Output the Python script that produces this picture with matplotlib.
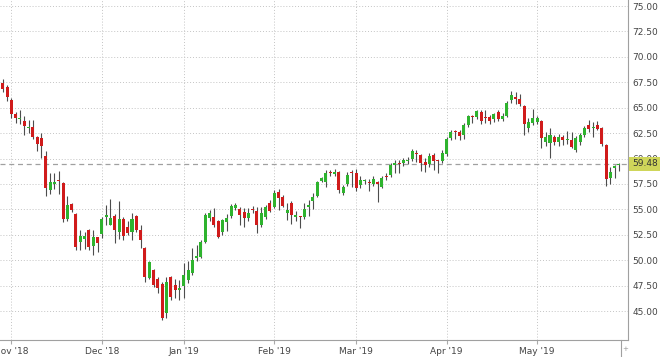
import matplotlib
matplotlib.use('Agg')
import matplotlib.pyplot as plt
from matplotlib.lines import Line2D
import numpy as np
import pandas as pd

# trading days Oct 30 2018 - May 29 2019 (NYSE closed on these)
holidays = ['2018-11-22', '2018-12-05', '2018-12-25', '2019-01-01',
            '2019-01-21', '2019-02-18', '2019-04-19', '2019-05-27']
dates = pd.bdate_range('2018-10-30', '2019-05-29', freq='C', holidays=holidays)

opens = [67.4, 67.0,
         65.8, 64.4, 63.85, 63.7, 63.0, 63.1, 62.1, 62.0, 60.3, 56.9, 57.5, 57.9, 57.6, 54.1, 55.5, 54.5, 51.8, 52.1, 52.97, 51.45, 52.25,
         52.55, 54.3, 53.5, 54.4, 52.8, 54.1, 53.3, 52.8, 54.35, 53.0, 51.2, 48.3, 49.0, 48.2, 47.7, 44.8, 48.4, 47.55, 47.1,
         47.46, 48.05, 48.77, 50.2, 50.35, 51.82, 54.2, 54.3, 53.9, 52.8, 53.8, 54.34, 55.13, 55.0, 54.77, 54.2, 54.95, 54.87, 53.46, 54.3, 55.65,
         55.2, 56.74, 56.25, 54.6, 55.65, 54.3, 54.35, 54.22, 55.2, 55.8, 56.3, 57.8, 57.72, 58.65, 58.5, 58.7, 56.64, 57.5, 58.65,
         58.54, 57.4, 57.75, 57.72, 57.5, 57.65, 57.23, 58.25, 58.38, 59.36, 59.5, 59.53, 59.8, 59.95, 60.45, 60.34, 59.62, 59.43, 60.34, 59.8, 59.75,
         60.45, 62.0, 62.66, 62.64, 62.3, 63.3, 64.1, 64.1, 64.55, 63.98, 64.05, 63.9, 64.6, 63.9, 64.2, 65.75, 66.08, 65.85, 65.2, 62.97, 63.46,
         63.6, 63.72, 61.66, 61.49, 62.15, 61.66, 62.15, 61.8, 61.82, 60.84, 61.6, 62.3, 63.3, 63.0, 63.3, 62.97, 61.33, 58.1, 59.04, 59.33]

highs = [67.8, 67.2,
         66.0, 64.6, 64.8, 64.2, 63.8, 63.8, 62.2, 62.5, 60.7, 58.6, 58.6, 58.8, 57.7, 56.3, 55.6, 54.6, 53.0, 52.8, 53.1, 53.0, 52.3,
         54.3, 55.4, 56.0, 54.5, 55.8, 54.3, 53.9, 54.6, 54.45, 53.5, 51.3, 49.9, 49.1, 48.4, 47.9, 48.4, 48.5, 48.2, 48.1,
         49.7, 49.9, 51.2, 51.5, 52.0, 54.6, 54.9, 55.1, 54.0, 54.1, 54.5, 55.5, 55.6, 55.2, 55.1, 55.1, 55.3, 55.2, 55.2, 55.4, 55.9,
         56.9, 57.0, 56.4, 55.6, 55.8, 54.8, 54.4, 55.6, 55.9, 56.6, 57.8, 58.2, 58.9, 58.9, 59.0, 58.8, 57.4, 58.7, 58.9,
         59.0, 58.3, 58.0, 58.0, 58.3, 57.8, 58.3, 58.6, 59.6, 59.9, 59.9, 60.1, 60.2, 60.9, 60.8, 60.4, 60.1, 60.5, 60.5, 59.9, 60.8,
         62.15, 62.8, 62.8, 62.8, 63.5, 64.3, 64.3, 64.8, 64.8, 64.8, 64.3, 64.5, 64.8, 64.5, 65.7, 66.6, 66.5, 66.3, 65.3, 64.0, 64.85,
         64.2, 63.8, 62.6, 63.0, 62.3, 62.4, 62.3, 62.7, 62.6, 62.2, 62.5, 63.2, 63.8, 63.6, 63.7, 63.1, 61.4, 59.2, 59.4, 59.6]

lows = [66.5, 65.7,
        64.0, 63.5, 63.35, 62.3, 62.5, 61.9, 60.7, 60.1, 56.3, 56.5, 57.0, 56.5, 53.8, 53.9, 54.7, 51.0, 51.0, 51.1, 51.0, 50.5, 50.8,
        52.2, 53.5, 53.45, 51.7, 52.1, 52.0, 52.5, 52.0, 52.8, 51.2, 47.9, 48.2, 47.4, 46.75, 44.1, 44.3, 46.1, 46.3, 46.1,
        46.3, 47.8, 48.6, 49.9, 50.2, 51.7, 53.9, 53.3, 52.2, 52.5, 52.9, 54.2, 54.9, 53.46, 53.3, 53.9, 54.6, 52.7, 53.3, 54.1, 54.7,
        55.1, 54.9, 55.2, 54.0, 53.6, 53.9, 53.2, 54.1, 54.4, 55.0, 56.2, 57.7, 57.2, 58.3, 58.3, 56.58, 56.4, 57.3, 57.2,
        56.8, 57.1, 57.5, 56.8, 57.3, 55.75, 57.1, 57.9, 58.2, 58.6, 58.6, 59.3, 59.5, 59.8, 59.7, 58.77, 58.7, 59.2, 58.9, 58.6, 59.6,
        60.28, 61.8, 61.9, 61.8, 61.9, 63.1, 63.5, 63.9, 63.4, 63.46, 63.4, 63.6, 63.7, 63.7, 64.1, 65.5, 65.4, 65.2, 62.3, 62.6, 63.3,
        63.4, 61.07, 61.2, 60.1, 61.3, 61.2, 61.3, 61.4, 61.0, 60.6, 61.3, 62.1, 62.6, 62.1, 62.8, 61.2, 57.33, 57.5, 58.1, 58.8]

closes = [66.8, 66.1,
          64.4, 64.0, 63.95, 63.2, 63.1, 62.1, 61.4, 61.2, 57.1, 57.7, 57.7, 57.8, 54.1, 55.4, 54.9, 51.3, 52.4, 52.35, 51.35, 52.25, 51.7,
          54.05, 54.45, 54.2, 53.0, 54.05, 52.4, 52.65, 54.05, 53.0, 52.0, 48.4, 49.85, 47.6, 47.25, 44.3, 47.9, 46.4, 47.1, 47.3,
          48.54, 49.03, 50.02, 50.4, 51.8, 54.44, 54.6, 53.46, 52.3, 53.95, 54.15, 55.33, 55.43, 54.44, 54.12, 54.6, 54.9, 53.46, 54.6, 55.2, 54.87,
          56.58, 56.1, 55.33, 54.94, 54.44, 54.45, 54.3, 55.0, 55.43, 56.2, 57.65, 58.1, 58.6, 58.6, 58.7, 56.9, 57.17, 58.38, 58.6,
          57.07, 57.9, 57.8, 57.56, 57.95, 57.5, 58.05, 58.2, 59.36, 59.53, 59.45, 59.9, 59.9, 60.74, 60.4, 59.53, 59.36, 60.28, 59.75, 59.75, 60.5,
          61.92, 62.64, 62.6, 62.25, 63.3, 64.2, 64.05, 64.67, 63.7, 63.95, 63.7, 64.35, 63.9, 64.2, 65.43, 66.25, 65.85, 65.33, 63.36, 63.62, 64.0,
          63.95, 62.0, 62.15, 62.3, 61.66, 62.15, 61.82, 61.85, 61.16, 62.0, 62.3, 63.03, 62.9, 63.05, 62.95, 61.4, 57.99, 58.64, 59.26, 59.48]

price_ticks = np.arange(45, 75.01, 2.5)

o = np.array(opens)
c = np.array(closes)
x = np.arange(len(dates))

# first trading day of each month gets a grid line / label
month_idx = [i for i in range(1, len(dates)) if dates[i].month != dates[i - 1].month]
month_lbl = [dates[i].strftime("%b '%y") for i in month_idx]

fig = plt.figure(figsize=(6.6, 3.57), dpi=100)
ax = fig.add_axes([0, 17 / 357, 628 / 660, 340 / 357])

red, green = '#d01b1b', '#2eb32e'
colors = [green if cc >= oo else red for oo, cc in zip(o, c)]
body = np.maximum(np.abs(c - o), 0.1)

ax.vlines(x, lows, highs, color='#4d4d4d', linewidth=0.8, zorder=2)
ax.bar(x, body, bottom=np.minimum(o, c), width=0.7, color=colors, linewidth=0, zorder=3)

last = closes[-1]
ax.axhline(last, color='#a0a0a0', linewidth=0.9, linestyle=(0, (4, 3)), zorder=1)
ax.annotate(f'{last:.2f}', xy=(1, last), xycoords=('axes fraction', 'data'),
            xytext=(3, 0), textcoords='offset points', ha='left', va='center',
            fontsize=6.5, color='#333333', annotation_clip=False,
            bbox=dict(boxstyle='square,pad=0.3', fc='#cfd65a', ec='none'))

ax.set_xlim(-0.63, 145.1)
ax.set_ylim(42.16, 75.59)

ax.yaxis.tick_right()
ax.set_yticks(price_ticks)
ax.set_yticklabels([f'{v:.2f}' for v in price_ticks])
ax.tick_params(axis='y', length=0, pad=3, labelsize=6.5, labelcolor='#444444')

ax.set_xticks(month_idx)
ax.set_xticklabels(month_lbl)
ax.tick_params(axis='x', length=3, color='#aaaaaa', pad=2, labelsize=6.5, labelcolor='#444444')

ax.grid(True, color='#c4c4c4', linewidth=0.7, linestyle=(0, (1, 2)))
ax.set_axisbelow(True)

for side in ['top', 'left']:
    ax.spines[side].set_visible(False)
for side in ['right', 'bottom']:
    ax.spines[side].set_color('#a0a0a0')
    ax.spines[side].set_linewidth(0.8)

# little zoom handle under the right end of the chart
fig.add_artist(Line2D([621 / 660, 621 / 660], [1 / 357, 17 / 357], color='#a0a0a0', linewidth=0.8))
fig.text(625.5 / 660, 8 / 357, '+', fontsize=5, color='#999999', ha='center', va='center')

fig.savefig('out.png', dpi=100)
